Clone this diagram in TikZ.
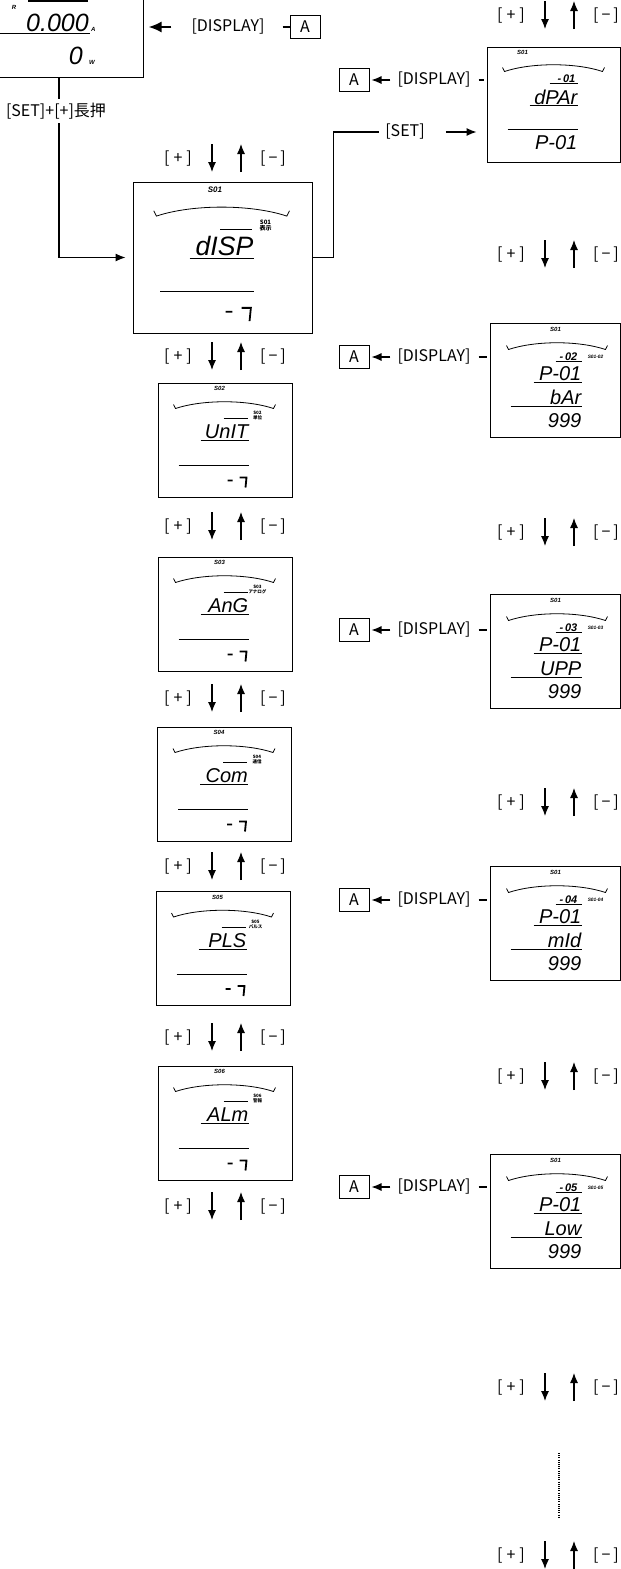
\documentclass[tikz,border=0pt]{standalone}
\usepackage{fontspec}
\setmainfont{Noto Sans CJK JP}
\newfontfamily\lcdfont{Liberation Sans}
\usetikzlibrary{arrows.meta,positioning}

\newcommand\lblfont{\fontsize{16pt}{18pt}\selectfont}
\newcommand\bigseg{\lcdfont\itshape\fontsize{20pt}{22pt}\selectfont}
\newcommand\meterseg{\lcdfont\itshape\fontsize{25pt}{26pt}\selectfont}
\newcommand\midseg{\lcdfont\itshape\bfseries\fontsize{11pt}{12pt}\selectfont}
\newcommand\tinyseg{\lcdfont\itshape\bfseries\fontsize{6pt}{6pt}\selectfont}
\newcommand\tinyjp{\bfseries\fontsize{4.5pt}{5pt}\selectfont}
\newcommand\kplus{[\kern4pt+\kern4pt]}
\newcommand\kminus{[\kern3pt−\kern3pt]}

% menu screen S0x
\newcommand\setscreen[5][1]{%
  \begin{scope}[shift={(#2.north west)}, scale=#1, every node/.append style={transform shape}]
    \node[font=\tinyseg] (#2-no) at (62,6) {#3};
    \draw[lcdline] (16,22) -- (18,26) .. controls (45,17) and (89,17) .. (116,26) -- (118,22);
    \draw[lcdline] (66,36) -- (90,36);
    \node[font=\tinyjp, align=center, inner sep=0pt] (#2-tag) at (100,33) {#3\\#5};
    \node[font=\bigseg, anchor=base east, inner sep=0pt] (#2-word) at (91,56) {#4};
    \draw[lcdline] (43,58) -- (91,58);
    \draw[lcdline] (21,83) -- (91,83);
    \draw[segline] (70,98) -- (75,98) (82,95) -- (89,95) -- (88,105);
  \end{scope}}

% parameter screen P-01
\newcommand\parscreen[3]{%
  \begin{scope}[shift={(#1.north west)}]
    \node[font=\tinyseg] (#1-no) at (66,7) {S01};
    \draw[lcdline] (17,23) -- (19,27) .. controls (46,18) and (89,18) .. (116,27) -- (118,23);
    \node[font=\midseg, anchor=base east, inner sep=0pt] (#1-step) at (88,38) {-\,#2};
    \draw[lcdline] (66,39) -- (92,39);
    \node[font=\tinyseg, scale=.8] (#1-tag) at (106,34) {S01-#2};
    \node[font=\bigseg, anchor=base east, inner sep=0pt] (#1-par) at (92,58) {P-01};
    \draw[lcdline] (44,60) -- (92,60);
    \node[font=\bigseg, anchor=base east, inner sep=0pt] (#1-word) at (92,82) {#3};
    \draw[lcdline] (21,84) -- (92,84);
    \node[font=\bigseg, anchor=base east, inner sep=0pt] (#1-val) at (92,105) {999};
  \end{scope}}

\begin{document}
\begin{tikzpicture}[
    x=1pt, y=-1pt,
    lbl/.style={font=\lblfont, inner sep=6pt},
    abox/.style={draw, line width=1pt, font=\lblfont, minimum width=30pt, minimum height=23pt, inner sep=0pt},
    screen/.style={draw, line width=1pt, minimum width=134pt, minimum height=114pt},
    pscreen/.style={screen, minimum width=130pt},
    flow/.style={-{Latex[length=10pt,width=8pt]}, line width=1.1pt},
    keyarrow/.style={-{Latex[length=10pt,width=8pt]}, line width=1.1pt},
    lcdline/.style={line width=0.8pt},
    segline/.style={line width=1.8pt}
  ]
  \useasboundingbox (0,0) rectangle (621,1569);
  \clip (0,0) rectangle (621,1569);

  % meter (cut by the page edge)
  \node[draw, line width=1pt, minimum width=190pt, minimum height=140pt] (meter) at (48,7) {};
  \draw[line width=1.2pt] (28,1) -- (88,1);
  \node[font=\tinyseg] (meterR) at (14,7) {R};
  \node[font=\meterseg, anchor=base east, inner sep=0pt] (amps) at (89,31) {0.000};
  \node[font=\tinyseg, anchor=base west, inner sep=0pt] (ampsU) at (91,31) {A};
  \draw[lcdline] (0,33) -- (90,33);
  \node[font=\meterseg, anchor=base east, inner sep=0pt] (watts) at (83,64) {0};
  \node[font=\tinyseg, anchor=base west, inner sep=0pt] (wattsU) at (89,64) {W};

  \node[lbl] (showTop) at (228,27) {[DISPLAY]};
  \node[abox] (aTop) at (305,27) {A};
  \draw[line width=1.1pt, shorten <=12pt] (showTop.east) -- (aTop.west);
  \draw[-{Latex[length=13pt,width=11pt]}, line width=2pt, shorten <=14pt, shorten >=5pt] (showTop.west) -- (meter.east |- showTop.west);

  % S01..S06 screens
  \node[screen, minimum width=179pt, minimum height=151pt] (disp) at (222.5,257.5) {};
  \node[screen] (unit) at (225,440) {};
  \node[screen] (ang) at (225,614) {};
  \node[screen] (con) at (224.5,784) {};
  \node[screen] (pls) at (223,948.5) {};
  \node[screen] (alm) at (225,1123) {};
  \setscreen[1.33]{disp}{S01}{dISP}{表示}
  \setscreen{unit}{S02}{UnIT}{単位}
  \setscreen{ang}{S03}{AnG}{アナログ}
  \setscreen{con}{S04}{Com}{通信}
  \setscreen{pls}{S05}{PLS}{パルス}
  \setscreen{alm}{S06}{ALm}{警報}

  \coordinate (drop) at (59,0);
  \draw[flow, shorten >=7pt] (meter.south -| drop) |- (disp.west);
  \node[lbl, fill=white, inner sep=4pt] (longpress) at (56,111) {[SET]+[+]長押};

  % P-01 screens
  \node[screen, minimum width=133pt, minimum height=115pt] (dpar) at (553.5,104.5) {};
  \node[pscreen] (bar) at (555,380) {};
  \node[pscreen] (upp) at (555,651) {};
  \node[pscreen] (mid) at (555,923) {};
  \node[pscreen] (low) at (555,1211) {};
  \begin{scope}[shift={(dpar.north west)}]
    \node[font=\tinyseg] (dpar-no) at (36,6) {S01};
    \draw[lcdline] (16,21) -- (18,25) .. controls (45,16) and (89,16) .. (116,25) -- (118,21);
    \node[font=\midseg, anchor=base east, inner sep=0pt] (dpar-step) at (89,36) {-\,01};
    \draw[lcdline] (63,37) -- (91,37);
    \node[font=\bigseg, anchor=base east, inner sep=0pt] (dpar-word) at (91,58) {dPAr};
    \draw[lcdline] (43,59) -- (91,59);
    \draw[lcdline] (21,83) -- (91,83);
    \node[font=\bigseg, anchor=base east, inner sep=0pt] (dpar-par) at (91,103) {P-01};
  \end{scope}
  \parscreen{bar}{02}{bAr}
  \parscreen{upp}{03}{UPP}
  \parscreen{mid}{04}{mId}
  \parscreen{low}{05}{Low}

  \node[lbl] (setl) at (405,132) {[SET]};
  \draw[line width=1.1pt] (disp.east) -- ++(21,0) |- (setl.west);
  \draw[flow, shorten <=15pt, shorten >=10pt] (setl.east) -- (dpar.west |- setl.east);

  \foreach \s/\ya [count=\i] in {dpar/80,bar/357,upp/630,mid/900,low/1187} {
    \node[lbl] (show\i) at (434,\ya) {[DISPLAY]};
    \node[abox] (a\i) at (354,\ya) {A};
    \draw[flow, shorten <=1pt, shorten >=2pt] (show\i) -- (a\i);
    \draw[line width=1.1pt, shorten <=2pt, shorten >=3pt] (show\i) -- (\s.west |- show\i);
  }

  % [+] / [-] keys
  \foreach \ym [count=\i] in {158,356,526,698,866,1037,1206} {
    \coordinate (lt\i) at (212,\ym-14);
    \coordinate (lb\i) at (212,\ym+14);
    \draw[keyarrow] (lt\i) -- (lb\i);
    \draw[keyarrow] ([xshift=29pt]lb\i) -- ([xshift=29pt]lt\i);
    \node[lbl, anchor=east] (lp\i) at (198,\ym+1) {\kplus};
    \node[lbl, anchor=west] (lm\i) at (254,\ym+1) {\kminus};
  }
  \foreach \ym [count=\i] in {15,254,532,802,1076,1387,1555} {
    \coordinate (rt\i) at (545,\ym-14);
    \coordinate (rb\i) at (545,\ym+14);
    \draw[keyarrow] (rt\i) -- (rb\i);
    \draw[keyarrow] ([xshift=29pt]rb\i) -- ([xshift=29pt]rt\i);
    \node[lbl, anchor=east] (rp\i) at (531,\ym+1) {\kplus};
    \node[lbl, anchor=west] (rm\i) at (587,\ym+1) {\kminus};
  }

  \coordinate (dotTop) at (559,1453);
  \coordinate (dotBot) at (559,1517);
  \draw[line width=1.2pt, dash pattern=on 1pt off 1.2pt] (dotTop) -- (dotBot);
\end{tikzpicture}
\end{document}
